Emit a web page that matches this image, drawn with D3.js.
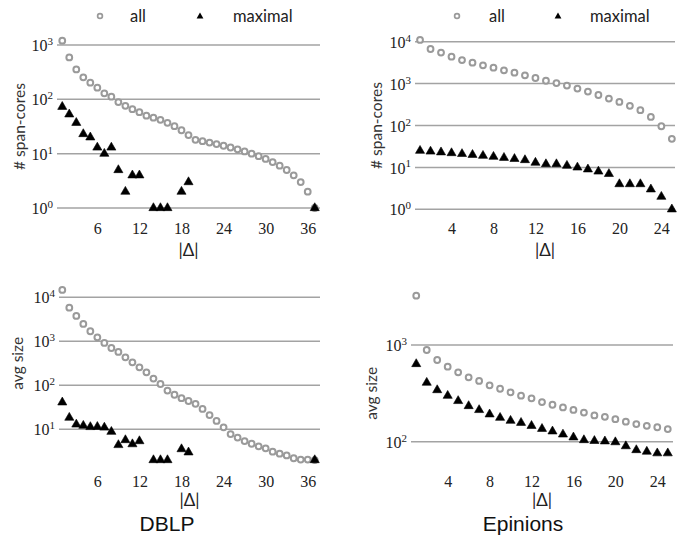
<!DOCTYPE html>
<html>
<head>
<meta charset="utf-8">
<script src="https://cdn.jsdelivr.net/npm/d3@7"></script>
<style>
  body { margin: 0; background: #fff; }
  svg { display: block; }
  .tick text { fill: #222; }
</style>
</head>
<body>
<svg id="chart" width="677" height="540"></svg>
<script>
// |Δ| values
const dblpX = d3.range(1, 38);
const epinX = d3.range(1, 26);

// DBLP: number of span-cores
const dblpCountAll = [1200, 590, 355, 254, 203, 164, 129, 112, 89, 76, 66, 58, 50, 46, 42, 37, 32, 27, 22,
  18, 17, 16, 15, 14, 13, 12, 11, 10, 9, 8, 7, 6, 5, 4, 3, 2, 1];
const dblpCountMax = [73, 53, 37, 23, 20, 13, 10, 13, 5, 2, 4, 4, null, 1, 1, 1, null, 2, 3,
  null, null, null, null, null, null, null, null, null, null, null, null, null, null, null, null, null, 1];

// DBLP: average size
const dblpSizeAll = [14700, 5800, 3770, 2480, 1690, 1230, 917, 705, 572, 433, 333, 256, 197, 142, 107, 76, 61, 51, 44,
  38, 29, 21, 15.5, 11.1, 7.8, 6.5, 5.4, 4.7, 4.1, 3.7, 3.1, 2.8, 2.55, 2.2, 2.05, 2.05, 2.0];
const dblpSizeMax = [41, 18.4, 12.9, 12.1, 11.3, 11.4, 11, 8.8, 4.4, 5.7, 4.6, 5.4, null, 2, 2, 2, null, 3.55, 3.0,
  null, null, null, null, null, null, null, null, null, null, null, null, null, null, null, null, null, 2];

// Epinions: number of span-cores
const epinCountAll = [11000, 6700, 5500, 4400, 3650, 3150, 2730, 2400, 2070, 1820, 1580, 1360, 1170, 1030,
  895, 760, 645, 535, 440, 365, 295, 232, 160, 96, 48];
const epinCountMax = [25, 24, 23, 22, 21, 20, 19, 18, 17, 16, 15, 13, 12, 12, 11, 10, 9, 8, 7, 4, 4, 4, 3, 2, 1];

// Epinions: average size
const epinSizeAll = [3240, 888, 700, 597, 522, 463, 425, 383, 353, 324, 299, 281, 257, 241, 226, 213, 200,
  187, 181, 171, 161, 152, 146, 141, 135];
const epinSizeMax = [636, 408, 342, 299, 264, 234, 213, 192, 177, 165, 157, 146, 136, 128, 119, 111, 104,
  102, 101, 99, 90, 82, 79, 76, 76];

const dblpTicks = [6, 12, 18, 24, 30, 36];
const epinTicks = [4, 8, 12, 16, 20, 24];
const seriesNames = ["all", "maximal"];
const titles = ["DBLP", "Epinions"];

const GREY = "#9a9a9a";
const svg = d3.select("#chart");

const panels = [
  { xs: dblpX, all: dblpCountAll, max: dblpCountMax, ticks: dblpTicks, label: "# span-cores",
    xDom: [0.25, 37.75], xRange: [57, 320], yDom: [Math.pow(10, -0.1), Math.pow(10, 3.2)],
    y0: 208, y1: 45, e0: 0, e1: 3, tickY: 228, deltaY: 250, labelX: 20 },
  { xs: epinX, all: epinCountAll, max: epinCountMax, ticks: epinTicks, label: "# span-cores",
    xDom: [0.52, 25.3], xRange: [415, 675], yDom: [Math.pow(10, -0.1), Math.pow(10, 4.15)],
    y0: 209.3, y1: 41.7, e0: 0, e1: 4, tickY: 228, deltaY: 250, labelX: 377 },
  { xs: dblpX, all: dblpSizeAll, max: dblpSizeMax, ticks: dblpTicks, label: "avg size",
    xDom: [0.53, 37.75], xRange: [59, 320], yDom: [Math.pow(10, 0.2), Math.pow(10, 4.25)],
    y0: 429.3, y1: 297.3, e0: 1, e1: 4, tickY: 481, deltaY: 500, labelX: 18 },
  { xs: epinX, all: epinSizeAll, max: epinSizeMax, ticks: epinTicks, label: "avg size",
    xDom: [0.5, 25.5], xRange: [411, 673], yDom: [Math.pow(10, 1.82), Math.pow(10, 3.55)],
    y0: 441.7, y1: 345, e0: 2, e1: 3, tickY: 481, deltaY: 500, labelX: 372 }
];

panels.forEach(drawPanel);

function drawPanel(p) {
  const x = d3.scaleLinear().domain(p.xDom).range(p.xRange);
  // pixels per decade from the two reference gridlines
  const perDec = (p.y0 - p.y1) / (p.e1 - p.e0);
  const lo = Math.log10(p.yDom[0]), hi = Math.log10(p.yDom[1]);
  const y = d3.scaleLog().domain(p.yDom)
    .range([p.y0 + (p.e0 - lo) * perDec, p.y1 - (hi - p.e1) * perDec]);

  const decades = d3.range(p.e0, p.e1 + 1).map(e => Math.pow(10, e));
  const g = svg.append("g");

  // gridlines
  g.selectAll(".grid").data(decades).enter().append("line")
    .attr("x1", p.xRange[0]).attr("x2", p.xRange[1])
    .attr("y1", d => y(d)).attr("y2", d => y(d))
    .attr("stroke", "#a3a3a3").attr("stroke-width", 1.5);

  // y axis labels 10^n
  const yAx = g.append("g")
    .attr("transform", `translate(${p.xRange[0] - 4},0)`)
    .call(d3.axisLeft(y).tickValues(decades).tickSize(0).tickPadding(0));
  yAx.select(".domain").remove();
  yAx.selectAll("text").each(function(d) {
    const t = d3.select(this).text("")
      .attr("font-family", "Liberation Serif").attr("font-size", 16).attr("dy", "0.35em");
    t.append("tspan").text("10");
    t.append("tspan").attr("dy", "-0.55em").attr("font-size", 11).text(Math.round(Math.log10(d)));
  });

  // x axis labels
  const xAx = g.append("g")
    .attr("transform", `translate(0,${p.tickY})`)
    .call(d3.axisBottom(x).tickValues(p.ticks).tickSize(0).tickPadding(0));
  xAx.select(".domain").remove();
  xAx.selectAll("text").attr("dy", "0.35em")
    .attr("font-family", "Liberation Serif").attr("font-size", 16);

  // axis titles
  g.append("text")
    .attr("x", (p.xRange[0] + p.xRange[1]) / 2).attr("y", p.deltaY)
    .attr("dy", "0.35em").attr("text-anchor", "middle")
    .attr("font-family", "Lato").attr("font-size", 17).attr("fill", "#222")
    .text("|Δ|");
  g.append("text")
    .attr("transform", `translate(${p.labelX},${(p.y0 + p.y1) / 2}) rotate(-90)`)
    .attr("dy", "0.35em").attr("text-anchor", "middle")
    .attr("font-family", "Lato").attr("font-size", 15.5).attr("fill", "#333")
    .text(p.label);

  // all: open grey circles
  const allPts = p.xs.map((v, i) => ({ x: v, y: p.all[i] })).filter(d => d.y != null);
  g.selectAll(".all").data(allPts).enter().append("circle")
    .attr("cx", d => x(d.x)).attr("cy", d => y(d.y)).attr("r", 2.9)
    .attr("fill", "#fff").attr("stroke", GREY).attr("stroke-width", 2);

  // maximal: black triangles
  const maxPts = p.xs.map((v, i) => ({ x: v, y: p.max[i] })).filter(d => d.y != null);
  g.selectAll(".max").data(maxPts).enter().append("path")
    .attr("d", d3.symbol(d3.symbolTriangle, 36))
    .attr("transform", d => `translate(${x(d.x)},${y(d.y)})`)
    .attr("fill", "#000").attr("stroke", "#000").attr("stroke-width", 0.6)
    .attr("stroke-linejoin", "round");
}

// legends above the top panels
[{ cx: 100, tx: 130, mx: 200, mtx: 233 }, { cx: 457, tx: 489, mx: 558, mtx: 590 }].forEach(l => {
  const lg = svg.append("g");
  lg.append("circle").attr("cx", l.cx).attr("cy", 16).attr("r", 2.4)
    .attr("fill", "#fff").attr("stroke", GREY).attr("stroke-width", 1.7);
  lg.append("path").attr("d", d3.symbol(d3.symbolTriangle, 20))
    .attr("transform", `translate(${l.mx},16.5)`).attr("fill", "#000");
  lg.selectAll("text").data(seriesNames).enter().append("text")
    .attr("x", (d, i) => i === 0 ? l.tx : l.mtx).attr("y", 16).attr("dy", "0.35em")
    .attr("font-family", "Lato").attr("font-size", 16.5).attr("fill", "#222")
    .text(d => d);
});

// dataset titles
svg.selectAll(".title").data(titles).enter().append("text")
  .attr("x", (d, i) => i === 0 ? 167 : 523).attr("y", 524).attr("dy", "0.35em")
  .attr("text-anchor", "middle")
  .attr("font-family", "Liberation Sans").attr("font-size", 21).attr("fill", "#111")
  .text(d => d);
</script>
</body>
</html>
